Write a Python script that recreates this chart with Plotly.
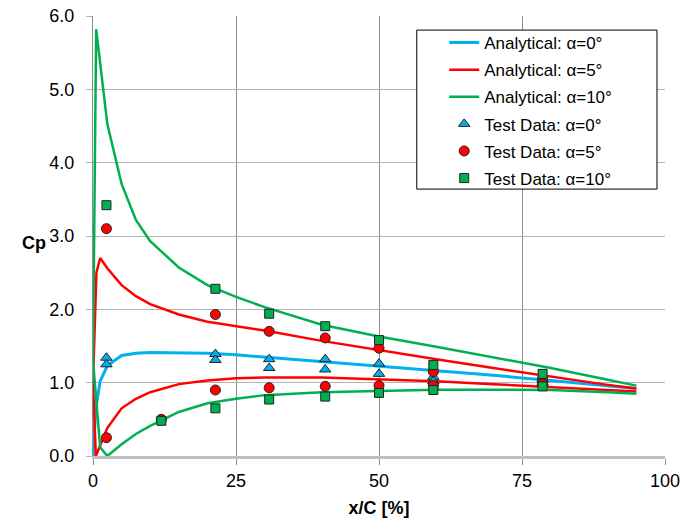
import plotly.graph_objects as go

# Chordwise stations (% chord) for the analytical pressure curves
x_up = [0, 0.5, 1.25, 2.5, 5, 7.5, 10, 15, 20, 25, 30, 40, 50, 60, 70, 80, 90, 95]

# alpha = 0 deg (symmetric section, upper = lower)
cp0 = [0.0, 0.65, 1.02, 1.23, 1.37, 1.40, 1.41, 1.41, 1.40, 1.38, 1.35, 1.28, 1.22, 1.16, 1.10, 1.03, 0.96, 0.92]

# alpha = 5 deg
x5_up = [0, 0.6, 1.25, 2.5, 5, 7.5, 10, 15, 20, 25, 30, 40, 50, 60, 70, 80, 90, 95]
cp5_up = [1.0, 2.50, 2.70, 2.56, 2.33, 2.18, 2.07, 1.93, 1.83, 1.77, 1.71, 1.57, 1.44, 1.32, 1.20, 1.08, 0.97, 0.92]
x5_lo = [0, 0.5, 2.5, 5, 7.5, 10, 15, 20, 25, 30, 40, 50, 60, 70, 80, 90, 95]
cp5_lo = [1.0, 0.0, 0.38, 0.65, 0.78, 0.87, 0.98, 1.03, 1.06, 1.07, 1.07, 1.05, 1.02, 0.98, 0.94, 0.90, 0.88]

# alpha = 10 deg
x10_up = [0, 0.55, 2.5, 5, 7.5, 10, 15, 20, 25, 30, 40, 50, 60, 70, 80, 90, 95]
cp10_up = [1.3, 5.82, 4.53, 3.71, 3.22, 2.93, 2.57, 2.33, 2.17, 2.03, 1.79, 1.63, 1.49, 1.35, 1.20, 1.04, 0.96]
x10_lo = [0, 1.25, 2.5, 5, 7.5, 10, 15, 20, 25, 30, 40, 50, 60, 70, 80, 90, 95]
cp10_lo = [1.3, 0.12, 0.0, 0.16, 0.30, 0.41, 0.60, 0.72, 0.78, 0.83, 0.87, 0.89, 0.905, 0.905, 0.90, 0.87, 0.85]

# Pressure-tap measurements
tx0 = [2.35, 2.35, 21.4, 21.4, 30.8, 30.8, 40.6, 40.6, 50, 50, 59.5, 59.5, 78.6, 78.6]
tcp0 = [1.34, 1.25, 1.39, 1.31, 1.32, 1.20, 1.32, 1.18, 1.26, 1.12, 1.08, 1.02, 1.04, 1.00]

tx5 = [2.35, 2.35, 11.95, 21.4, 21.4, 30.8, 30.8, 40.6, 40.6, 50, 50, 59.5, 59.5, 78.6, 78.6]
tcp5 = [3.10, 0.25, 0.50, 1.93, 0.90, 1.70, 0.93, 1.61, 0.95, 1.47, 0.96, 1.15, 0.96, 1.05, 0.98]

tx10 = [2.35, 11.95, 21.4, 21.4, 30.8, 30.8, 40.6, 40.6, 50, 50, 59.5, 59.5, 78.6, 78.6]
tcp10 = [3.42, 0.48, 2.28, 0.65, 1.94, 0.77, 1.77, 0.81, 1.58, 0.86, 1.24, 0.90, 1.12, 0.95]

BLUE = "#00B0F0"
RED = "#FF0000"
GREEN = "#00B050"
FONT = "Liberation Sans, Arial, sans-serif"

fig = go.Figure()

def line(x, y, color, name, group, show, width=2.5):
    fig.add_trace(go.Scatter(
        x=x, y=y, mode="lines", name=name, legendgroup=group, showlegend=show,
        line=dict(color=color, width=width)))

line(x_up, cp0, BLUE, "Analytical: α=0°", "a0", True, 3)
line(x5_up, cp5_up, RED, "Analytical: α=5°", "a5", True)
line(x5_lo, cp5_lo, RED, "Analytical: α=5°", "a5", False)
line(x10_up, cp10_up, GREEN, "Analytical: α=10°", "a10", True)
line(x10_lo, cp10_lo, GREEN, "Analytical: α=10°", "a10", False)

def pts(x, y, color, symbol, name, group, size):
    fig.add_trace(go.Scatter(
        x=x, y=y, mode="markers", name=name, legendgroup=group,
        marker=dict(color=color, symbol=symbol, size=size,
                    line=dict(color="#222222", width=1))))

pts(tx0, tcp0, BLUE, "triangle-up", "Test Data: α=0°", "t0", 10)
pts(tx5, tcp5, RED, "circle", "Test Data: α=5°", "t5", 10)
pts(tx10, tcp10, GREEN, "square", "Test Data: α=10°", "t10", 9)

fig.update_layout(
    width=684, height=527,
    margin=dict(l=93, r=19, t=16, b=71),
    paper_bgcolor="white", plot_bgcolor="white",
    font=dict(family=FONT, size=17, color="black"),
    legend=dict(
        x=0.614, y=0.9795, xanchor="left", yanchor="top",
        bgcolor="rgba(0,0,0,0)", borderwidth=0,
        font=dict(family=FONT, size=17, color="black"),
        tracegroupgap=2, itemwidth=30,
    ),
    # framed white box behind the legend entries
    shapes=[dict(
        type="rect", xref="paper", yref="paper",
        x0=0.566, x1=0.986, y0=0.6066, y1=0.968,
        line=dict(color="black", width=1), fillcolor="white", layer="above",
    )],
    annotations=[dict(
        text="<b>Cp</b>", x=-0.103, y=2.9, xref="paper", yref="y",
        xanchor="center", yanchor="middle",
        showarrow=False, font=dict(family=FONT, size=18, color="black"),
    )],
)

fig.update_xaxes(
    range=[0, 100], tickvals=[0, 25, 50, 75, 100], automargin=False,
    showgrid=True, gridcolor="#8c8c8c", gridwidth=1,
    showline=True, linecolor="#bfbfbf", linewidth=3,
    ticks="outside", ticklen=6, tickcolor="#8c8c8c",
    zeroline=False,
    tickfont=dict(family=FONT, size=18),
    title=dict(text="<b>x/C [%]</b>", font=dict(family=FONT, size=18), standoff=12),
)
fig.update_yaxes(
    range=[0, 6], tickvals=[0, 1, 2, 3, 4, 5, 6], tickformat=".1f", automargin=False,
    showgrid=True, gridcolor="#b3b3b3", gridwidth=1,
    showline=True, linecolor="#8c8c8c", linewidth=1,
    ticks="outside", ticklen=6, tickcolor="#b3b3b3",
    ticklabelstandoff=8,
    zeroline=False,
    tickfont=dict(family=FONT, size=18),
)

fig.write_html("out.html")
